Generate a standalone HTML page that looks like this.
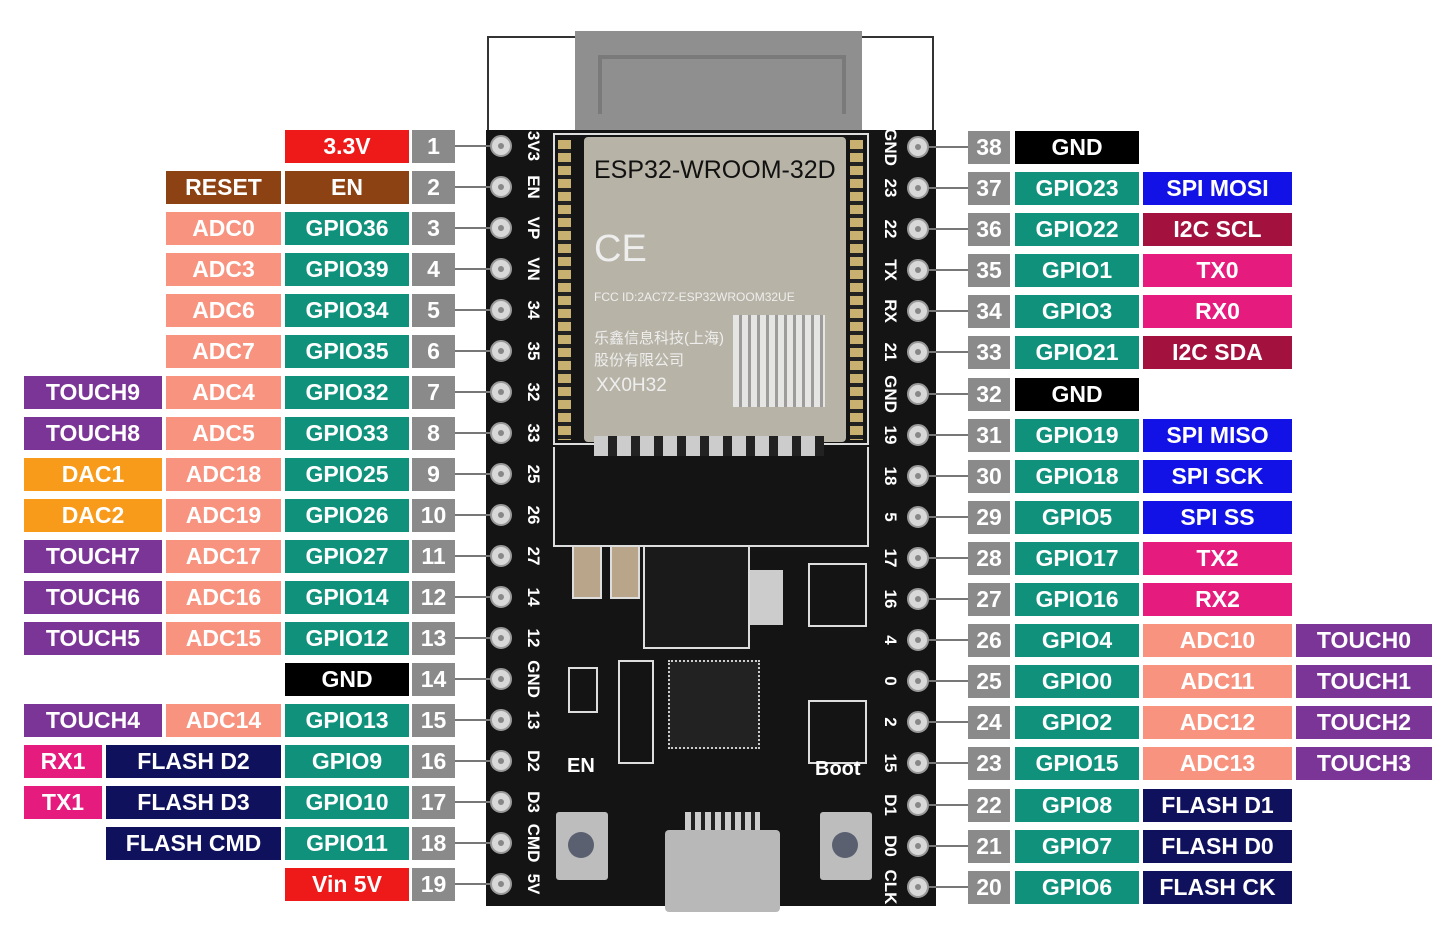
<!DOCTYPE html>
<html><head><meta charset="utf-8"><style>
body{margin:0;width:1445px;height:949px;background:#fff;position:relative;overflow:hidden;font-family:"Liberation Sans",sans-serif}
.b{position:absolute;height:33px;color:#fff;font:bold 23px "Liberation Sans",sans-serif;display:flex;align-items:center;justify-content:center;white-space:nowrap}
.A{left:24px;width:138px}.B{left:166px;width:115px}.C{left:285px;width:124px}.N{left:412px;width:43px;background:#8a8a8a}
.RN{left:968px;width:42px;background:#8a8a8a}.G{left:1015px;width:124px}.R{left:1143px;width:149px}.T{left:1296px;width:136px}
.red{background:#ee1a1a}.br{background:#8c4213}.adc{background:#f7937f}.gp{background:#10917c}.tc{background:#7b3596}.dac{background:#f89a1a}.k{background:#000}.pk{background:#e51b7e}.nv{background:#10115c}.bl{background:#1212e6}.mr{background:#a3113f}
.ln{position:absolute;height:2px;background:#777}
.h{position:absolute;width:22px;height:22px;border-radius:50%;background:#d8d8d8;border:2px solid #999;box-sizing:border-box}
.h::after{content:"";position:absolute;left:6px;top:6px;width:6px;height:6px;border-radius:50%;background:#888}
.sl{position:absolute;color:#fff;font:bold 17px "Liberation Sans",sans-serif;transform:rotate(90deg);transform-origin:center;width:50px;text-align:center}
.pad{position:absolute;width:11px;height:9px;background:#c8b070;border:1px solid #fff}
</style></head><body>
<!-- antenna -->
<div style="position:absolute;left:487px;top:36px;width:447px;height:100px;border:2px solid #333;border-bottom:none;box-sizing:border-box"></div>
<div style="position:absolute;left:575px;top:31px;width:287px;height:105px;background:#8f8f8f"></div>
<div style="position:absolute;left:598px;top:55px;width:240px;height:55px;border:4px solid #7a7a7a;border-bottom:none"></div>
<!-- board -->
<div style="position:absolute;left:486px;top:130px;width:450px;height:776px;background:#141414"></div>
<div style="position:absolute;left:553px;top:133px;width:316px;height:312px;border:2px solid #ddd;box-sizing:border-box"></div>
<div style="position:absolute;left:584px;top:137px;width:262px;height:305px;background:#b7b3a6;border-radius:4px"></div>
<div style="position:absolute;left:594px;top:156px;font:25px 'Liberation Sans',sans-serif;color:#111">ESP32-WROOM-32D</div>
<div style="position:absolute;left:594px;top:228px;font:38px 'Liberation Sans',sans-serif;color:#eee">CE</div>
<div style="position:absolute;left:594px;top:290px;font:12px 'Liberation Sans',sans-serif;color:#eee">FCC ID:2AC7Z-ESP32WROOM32UE</div>
<div style="position:absolute;left:594px;top:328px;font:15px 'Liberation Sans','Noto Sans CJK SC',sans-serif;color:#eee;line-height:22px">乐鑫信息科技(上海)<br>股份有限公司</div>
<div style="position:absolute;left:596px;top:375px;font:19px 'Liberation Sans',sans-serif;color:#eee">XX0H32</div>
<div style="position:absolute;left:733px;top:315px;width:92px;height:92px;background:repeating-linear-gradient(90deg,#eee 0 6px,#999 6px 9px),#eee;opacity:.85"></div>
<!-- side pads -->
<div style="position:absolute;left:558px;top:140px;width:13px;height:300px;background:repeating-linear-gradient(#c8b070 0 9px,#222 9px 13px)"></div>
<div style="position:absolute;left:850px;top:140px;width:13px;height:300px;background:repeating-linear-gradient(#c8b070 0 9px,#222 9px 13px)"></div>
<div style="position:absolute;left:594px;top:436px;width:230px;height:20px;background:repeating-linear-gradient(90deg,#ccc 0 14px,#222 14px 23px)"></div>
<div style="position:absolute;left:553px;top:447px;width:316px;height:100px;border:2px solid #ddd;border-top:none;box-sizing:border-box"></div>
<!-- components -->
<div style="position:absolute;left:643px;top:545px;width:103px;height:100px;border:2px solid #ddd;background:#1a1a1a"></div>
<div style="position:absolute;left:750px;top:570px;width:33px;height:55px;background:#ccc"></div>
<div style="position:absolute;left:572px;top:545px;width:26px;height:50px;background:#b9a58a;border:2px solid #ddd"></div>
<div style="position:absolute;left:610px;top:545px;width:26px;height:50px;background:#b9a58a;border:2px solid #ddd"></div>
<div style="position:absolute;left:808px;top:563px;width:55px;height:60px;border:2px solid #ddd"></div>
<div style="position:absolute;left:668px;top:660px;width:88px;height:85px;border:2px dotted #ccc;background:#222"></div>
<div style="position:absolute;left:808px;top:700px;width:55px;height:60px;border:2px solid #ddd"></div>
<div style="position:absolute;left:568px;top:667px;width:26px;height:42px;border:2px solid #ddd"></div>
<div style="position:absolute;left:618px;top:660px;width:32px;height:100px;border:2px solid #ddd"></div>
<div style="position:absolute;left:567px;top:755px;font:bold 20px 'Liberation Sans',sans-serif;color:#fff">EN</div>
<div style="position:absolute;left:815px;top:758px;font:bold 20px 'Liberation Sans',sans-serif;color:#fff">Boot</div>
<div style="position:absolute;left:556px;top:812px;width:52px;height:68px;background:#bdbdbd;border-radius:3px"></div>
<div style="position:absolute;left:568px;top:832px;width:26px;height:26px;border-radius:50%;background:#5a6070"></div>
<div style="position:absolute;left:820px;top:812px;width:52px;height:68px;background:#bdbdbd;border-radius:3px"></div>
<div style="position:absolute;left:832px;top:832px;width:26px;height:26px;border-radius:50%;background:#5a6070"></div>
<div style="position:absolute;left:665px;top:830px;width:115px;height:82px;background:#b8b8b8;border-radius:4px"></div>
<div style="position:absolute;left:685px;top:812px;width:75px;height:18px;background:repeating-linear-gradient(90deg,#ccc 0 6px,#222 6px 10px)"></div>
<!-- holes -->
<div class="h" style="left:490px;top:135px"></div><div class="h" style="left:490px;top:176px"></div><div class="h" style="left:490px;top:217px"></div><div class="h" style="left:490px;top:258px"></div><div class="h" style="left:490px;top:299px"></div><div class="h" style="left:490px;top:340px"></div><div class="h" style="left:490px;top:381px"></div><div class="h" style="left:490px;top:422px"></div><div class="h" style="left:490px;top:463px"></div><div class="h" style="left:490px;top:504px"></div><div class="h" style="left:490px;top:545px"></div><div class="h" style="left:490px;top:586px"></div><div class="h" style="left:490px;top:627px"></div><div class="h" style="left:490px;top:668px"></div><div class="h" style="left:490px;top:709px"></div><div class="h" style="left:490px;top:750px"></div><div class="h" style="left:490px;top:791px"></div><div class="h" style="left:490px;top:832px"></div><div class="h" style="left:490px;top:873px"></div>
<div class="h" style="left:907px;top:136px"></div><div class="h" style="left:907px;top:177px"></div><div class="h" style="left:907px;top:218px"></div><div class="h" style="left:907px;top:259px"></div><div class="h" style="left:907px;top:300px"></div><div class="h" style="left:907px;top:341px"></div><div class="h" style="left:907px;top:383px"></div><div class="h" style="left:907px;top:424px"></div><div class="h" style="left:907px;top:465px"></div><div class="h" style="left:907px;top:506px"></div><div class="h" style="left:907px;top:547px"></div><div class="h" style="left:907px;top:588px"></div><div class="h" style="left:907px;top:629px"></div><div class="h" style="left:907px;top:670px"></div><div class="h" style="left:907px;top:711px"></div><div class="h" style="left:907px;top:752px"></div><div class="h" style="left:907px;top:794px"></div><div class="h" style="left:907px;top:835px"></div><div class="h" style="left:907px;top:876px"></div>
<!-- silkscreen left -->
<div class="sl" style="left:508px;top:136px">3V3</div><div class="sl" style="left:508px;top:177px">EN</div><div class="sl" style="left:508px;top:218px">VP</div><div class="sl" style="left:508px;top:259px">VN</div><div class="sl" style="left:508px;top:300px">34</div><div class="sl" style="left:508px;top:341px">35</div><div class="sl" style="left:508px;top:382px">32</div><div class="sl" style="left:508px;top:423px">33</div><div class="sl" style="left:508px;top:464px">25</div><div class="sl" style="left:508px;top:505px">26</div><div class="sl" style="left:508px;top:546px">27</div><div class="sl" style="left:508px;top:587px">14</div><div class="sl" style="left:508px;top:628px">12</div><div class="sl" style="left:508px;top:669px">GND</div><div class="sl" style="left:508px;top:710px">13</div><div class="sl" style="left:508px;top:751px">D2</div><div class="sl" style="left:508px;top:792px">D3</div><div class="sl" style="left:508px;top:833px">CMD</div><div class="sl" style="left:508px;top:874px">5V</div>
<!-- silkscreen right -->
<div class="sl" style="left:865px;top:137px">GND</div><div class="sl" style="left:865px;top:178px">23</div><div class="sl" style="left:865px;top:219px">22</div><div class="sl" style="left:865px;top:260px">TX</div><div class="sl" style="left:865px;top:301px">RX</div><div class="sl" style="left:865px;top:342px">21</div><div class="sl" style="left:865px;top:384px">GND</div><div class="sl" style="left:865px;top:425px">19</div><div class="sl" style="left:865px;top:466px">18</div><div class="sl" style="left:865px;top:507px">5</div><div class="sl" style="left:865px;top:548px">17</div><div class="sl" style="left:865px;top:589px">16</div><div class="sl" style="left:865px;top:630px">4</div><div class="sl" style="left:865px;top:671px">0</div><div class="sl" style="left:865px;top:712px">2</div><div class="sl" style="left:865px;top:753px">15</div><div class="sl" style="left:865px;top:795px">D1</div><div class="sl" style="left:865px;top:836px">D0</div><div class="sl" style="left:865px;top:877px">CLK</div>
<!-- connector lines -->
<div class="ln" style="left:455px;top:145px;width:35px"></div><div class="ln" style="left:455px;top:186px;width:35px"></div><div class="ln" style="left:455px;top:227px;width:35px"></div><div class="ln" style="left:455px;top:268px;width:35px"></div><div class="ln" style="left:455px;top:309px;width:35px"></div><div class="ln" style="left:455px;top:350px;width:35px"></div><div class="ln" style="left:455px;top:391px;width:35px"></div><div class="ln" style="left:455px;top:432px;width:35px"></div><div class="ln" style="left:455px;top:473px;width:35px"></div><div class="ln" style="left:455px;top:514px;width:35px"></div><div class="ln" style="left:455px;top:555px;width:35px"></div><div class="ln" style="left:455px;top:596px;width:35px"></div><div class="ln" style="left:455px;top:637px;width:35px"></div><div class="ln" style="left:455px;top:678px;width:35px"></div><div class="ln" style="left:455px;top:719px;width:35px"></div><div class="ln" style="left:455px;top:760px;width:35px"></div><div class="ln" style="left:455px;top:801px;width:35px"></div><div class="ln" style="left:455px;top:842px;width:35px"></div><div class="ln" style="left:455px;top:883px;width:35px"></div>
<div class="ln" style="left:929px;top:146px;width:39px"></div><div class="ln" style="left:929px;top:187px;width:39px"></div><div class="ln" style="left:929px;top:228px;width:39px"></div><div class="ln" style="left:929px;top:269px;width:39px"></div><div class="ln" style="left:929px;top:310px;width:39px"></div><div class="ln" style="left:929px;top:351px;width:39px"></div><div class="ln" style="left:929px;top:393px;width:39px"></div><div class="ln" style="left:929px;top:434px;width:39px"></div><div class="ln" style="left:929px;top:475px;width:39px"></div><div class="ln" style="left:929px;top:516px;width:39px"></div><div class="ln" style="left:929px;top:557px;width:39px"></div><div class="ln" style="left:929px;top:598px;width:39px"></div><div class="ln" style="left:929px;top:639px;width:39px"></div><div class="ln" style="left:929px;top:680px;width:39px"></div><div class="ln" style="left:929px;top:721px;width:39px"></div><div class="ln" style="left:929px;top:762px;width:39px"></div><div class="ln" style="left:929px;top:804px;width:39px"></div><div class="ln" style="left:929px;top:845px;width:39px"></div><div class="ln" style="left:929px;top:886px;width:39px"></div>
<!-- LEFT labels -->
<div class="b C red" style="top:130px">3.3V</div><div class="b N" style="top:130px">1</div>
<div class="b B br" style="top:171px">RESET</div><div class="b C br" style="top:171px">EN</div><div class="b N" style="top:171px">2</div>
<div class="b B adc" style="top:212px">ADC0</div><div class="b C gp" style="top:212px">GPIO36</div><div class="b N" style="top:212px">3</div>
<div class="b B adc" style="top:253px">ADC3</div><div class="b C gp" style="top:253px">GPIO39</div><div class="b N" style="top:253px">4</div>
<div class="b B adc" style="top:294px">ADC6</div><div class="b C gp" style="top:294px">GPIO34</div><div class="b N" style="top:294px">5</div>
<div class="b B adc" style="top:335px">ADC7</div><div class="b C gp" style="top:335px">GPIO35</div><div class="b N" style="top:335px">6</div>
<div class="b A tc" style="top:376px">TOUCH9</div><div class="b B adc" style="top:376px">ADC4</div><div class="b C gp" style="top:376px">GPIO32</div><div class="b N" style="top:376px">7</div>
<div class="b A tc" style="top:417px">TOUCH8</div><div class="b B adc" style="top:417px">ADC5</div><div class="b C gp" style="top:417px">GPIO33</div><div class="b N" style="top:417px">8</div>
<div class="b A dac" style="top:458px">DAC1</div><div class="b B adc" style="top:458px">ADC18</div><div class="b C gp" style="top:458px">GPIO25</div><div class="b N" style="top:458px">9</div>
<div class="b A dac" style="top:499px">DAC2</div><div class="b B adc" style="top:499px">ADC19</div><div class="b C gp" style="top:499px">GPIO26</div><div class="b N" style="top:499px">10</div>
<div class="b A tc" style="top:540px">TOUCH7</div><div class="b B adc" style="top:540px">ADC17</div><div class="b C gp" style="top:540px">GPIO27</div><div class="b N" style="top:540px">11</div>
<div class="b A tc" style="top:581px">TOUCH6</div><div class="b B adc" style="top:581px">ADC16</div><div class="b C gp" style="top:581px">GPIO14</div><div class="b N" style="top:581px">12</div>
<div class="b A tc" style="top:622px">TOUCH5</div><div class="b B adc" style="top:622px">ADC15</div><div class="b C gp" style="top:622px">GPIO12</div><div class="b N" style="top:622px">13</div>
<div class="b C k" style="top:663px">GND</div><div class="b N" style="top:663px">14</div>
<div class="b A tc" style="top:704px">TOUCH4</div><div class="b B adc" style="top:704px">ADC14</div><div class="b C gp" style="top:704px">GPIO13</div><div class="b N" style="top:704px">15</div>
<div class="b pk" style="top:745px;left:24px;width:78px">RX1</div><div class="b nv" style="top:745px;left:106px;width:175px">FLASH D2</div><div class="b C gp" style="top:745px">GPIO9</div><div class="b N" style="top:745px">16</div>
<div class="b pk" style="top:786px;left:24px;width:78px">TX1</div><div class="b nv" style="top:786px;left:106px;width:175px">FLASH D3</div><div class="b C gp" style="top:786px">GPIO10</div><div class="b N" style="top:786px">17</div>
<div class="b nv" style="top:827px;left:106px;width:175px">FLASH CMD</div><div class="b C gp" style="top:827px">GPIO11</div><div class="b N" style="top:827px">18</div>
<div class="b C red" style="top:868px">Vin 5V</div><div class="b N" style="top:868px">19</div>
<!-- RIGHT labels -->
<div class="b RN" style="top:131px">38</div><div class="b G k" style="top:131px">GND</div>
<div class="b RN" style="top:172px">37</div><div class="b G gp" style="top:172px">GPIO23</div><div class="b R bl" style="top:172px">SPI MOSI</div>
<div class="b RN" style="top:213px">36</div><div class="b G gp" style="top:213px">GPIO22</div><div class="b R mr" style="top:213px">I2C SCL</div>
<div class="b RN" style="top:254px">35</div><div class="b G gp" style="top:254px">GPIO1</div><div class="b R pk" style="top:254px">TX0</div>
<div class="b RN" style="top:295px">34</div><div class="b G gp" style="top:295px">GPIO3</div><div class="b R pk" style="top:295px">RX0</div>
<div class="b RN" style="top:336px">33</div><div class="b G gp" style="top:336px">GPIO21</div><div class="b R mr" style="top:336px">I2C SDA</div>
<div class="b RN" style="top:378px">32</div><div class="b G k" style="top:378px">GND</div>
<div class="b RN" style="top:419px">31</div><div class="b G gp" style="top:419px">GPIO19</div><div class="b R bl" style="top:419px">SPI MISO</div>
<div class="b RN" style="top:460px">30</div><div class="b G gp" style="top:460px">GPIO18</div><div class="b R bl" style="top:460px">SPI SCK</div>
<div class="b RN" style="top:501px">29</div><div class="b G gp" style="top:501px">GPIO5</div><div class="b R bl" style="top:501px">SPI SS</div>
<div class="b RN" style="top:542px">28</div><div class="b G gp" style="top:542px">GPIO17</div><div class="b R pk" style="top:542px">TX2</div>
<div class="b RN" style="top:583px">27</div><div class="b G gp" style="top:583px">GPIO16</div><div class="b R pk" style="top:583px">RX2</div>
<div class="b RN" style="top:624px">26</div><div class="b G gp" style="top:624px">GPIO4</div><div class="b R adc" style="top:624px">ADC10</div><div class="b T tc" style="top:624px">TOUCH0</div>
<div class="b RN" style="top:665px">25</div><div class="b G gp" style="top:665px">GPIO0</div><div class="b R adc" style="top:665px">ADC11</div><div class="b T tc" style="top:665px">TOUCH1</div>
<div class="b RN" style="top:706px">24</div><div class="b G gp" style="top:706px">GPIO2</div><div class="b R adc" style="top:706px">ADC12</div><div class="b T tc" style="top:706px">TOUCH2</div>
<div class="b RN" style="top:747px">23</div><div class="b G gp" style="top:747px">GPIO15</div><div class="b R adc" style="top:747px">ADC13</div><div class="b T tc" style="top:747px">TOUCH3</div>
<div class="b RN" style="top:789px">22</div><div class="b G gp" style="top:789px">GPIO8</div><div class="b R nv" style="top:789px">FLASH D1</div>
<div class="b RN" style="top:830px">21</div><div class="b G gp" style="top:830px">GPIO7</div><div class="b R nv" style="top:830px">FLASH D0</div>
<div class="b RN" style="top:871px">20</div><div class="b G gp" style="top:871px">GPIO6</div><div class="b R nv" style="top:871px">FLASH CK</div>
</body></html>
